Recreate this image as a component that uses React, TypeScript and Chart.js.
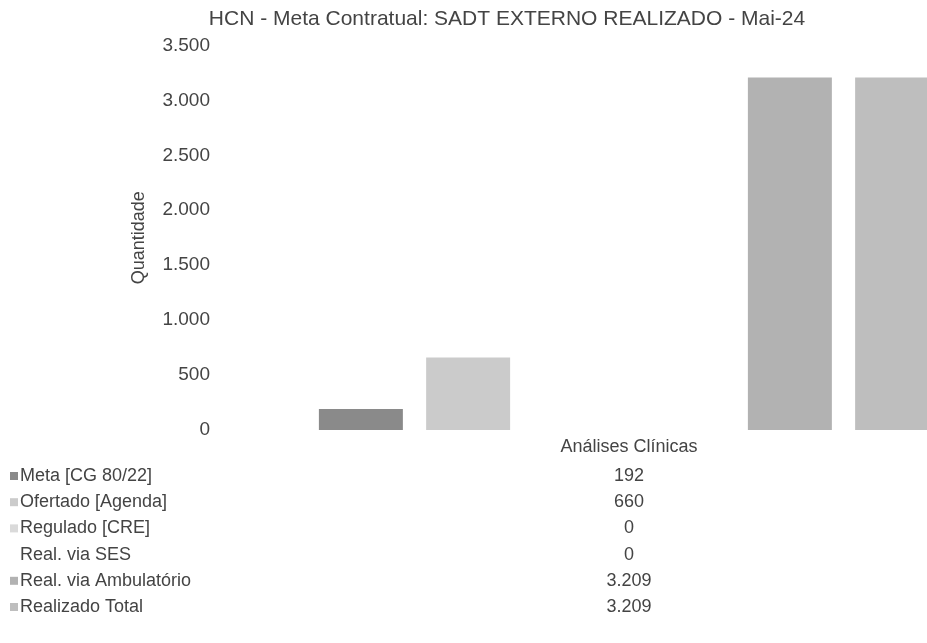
import React, { useEffect, useRef } from "react";
import { Chart, registerables } from "chart.js";

Chart.register(...registerables);

const TITLE = "HCN - Meta Contratual: SADT EXTERNO REALIZADO - Mai-24";
const Y_TITLE = "Quantidade";
const categories = ["Análises Clínicas"];
const seriesNames = [
  "Meta [CG 80/22]",
  "Ofertado [Agenda]",
  "Regulado [CRE]",
  "Real. via SES",
  "Real. via Ambulatório",
  "Realizado Total",
];
const meta = [192];
const ofertado = [660];
const regulado = [0];
const realSes = [0];
const realAmb = [3209];
const realTotal = [3209];
const seriesValues = [meta, ofertado, regulado, realSes, realAmb, realTotal];
const seriesColors = ["#8a8a8a", "#cbcbcb", "#dadada", "#ffffff", "#b2b2b2", "#bebebe"];
const Y_MIN = 0;
const Y_MAX = 3500;
const Y_STEP = 500;

const TEXT = "#444444";
const FONT = '"Liberation Sans", Arial, sans-serif';

const fmt = (v: number) =>
  String(Math.round(v)).replace(/\B(?=(\d{3})+(?!\d))/g, ".");

const tablePlugin = {
  id: "dataTable",
  afterDraw(chart: any) {
    const { ctx, chartArea, scales } = chart;
    const cx = scales.x.getPixelForValue(0);
    ctx.save();
    ctx.font = `18px ${FONT}`;
    ctx.fillStyle = TEXT;
    ctx.textBaseline = "middle";
    ctx.textAlign = "center";
    ctx.fillText(categories[0], cx, chartArea.bottom + 17);
    chart.data.datasets.forEach((ds: any, i: number) => {
      const y = chartArea.bottom + 46 + i * 26.2;
      ctx.fillStyle = ds.backgroundColor;
      ctx.fillRect(10, y - 4, 8, 8);
      ctx.fillStyle = TEXT;
      ctx.textAlign = "left";
      ctx.fillText(ds.label, 20, y);
      ctx.textAlign = "center";
      ctx.fillText(fmt(ds.data[0]), cx, y);
    });
    ctx.restore();
  },
};

export default function App() {
  const ref = useRef<HTMLCanvasElement | null>(null);

  useEffect(() => {
    if (!ref.current) return;
    Chart.defaults.font.family = FONT;
    const chart = new Chart(ref.current, {
      type: "bar",
      data: {
        labels: categories,
        datasets: seriesNames.map((name, i) => ({
          label: name,
          data: seriesValues[i],
          backgroundColor: seriesColors[i],
          borderWidth: 0,
          categoryPercentage: 0.8357,
          barPercentage: 0.783,
        })),
      },
      options: {
        responsive: false,
        animation: false,
        devicePixelRatio: 1,
        layout: { padding: { left: 0, right: 0, top: 0, bottom: 213 } },
        plugins: {
          legend: { display: false },
          tooltip: { enabled: false },
          title: {
            display: true,
            text: TITLE,
            color: TEXT,
            font: { size: 21, weight: "normal", family: FONT },
            padding: { top: 6, bottom: 14 },
          },
        },
        scales: {
          x: {
            display: false,
            grid: { display: false },
          },
          y: {
            min: Y_MIN,
            max: Y_MAX,
            grid: { display: false, drawTicks: false },
            border: { display: false },
            ticks: {
              stepSize: Y_STEP,
              padding: 34,
              color: TEXT,
              font: { size: 19, family: FONT },
              callback: (v: any) => fmt(Number(v)),
            },
            title: {
              display: true,
              text: Y_TITLE,
              color: TEXT,
              font: { size: 18, family: FONT },
              padding: { top: 128, bottom: 0 },
            },
            afterFit: (s: any) => {
              s.width = 244;
            },
          },
        },
      },
      plugins: [tablePlugin],
    });
    return () => chart.destroy();
  }, []);

  return (
    <div
      style={{
        position: "fixed",
        left: 0,
        top: 0,
        width: 927,
        height: 643,
        overflow: "hidden",
        background: "#ffffff",
      }}
    >
      <canvas ref={ref} width={1014} height={643} style={{ display: "block" }} />
    </div>
  );
}
